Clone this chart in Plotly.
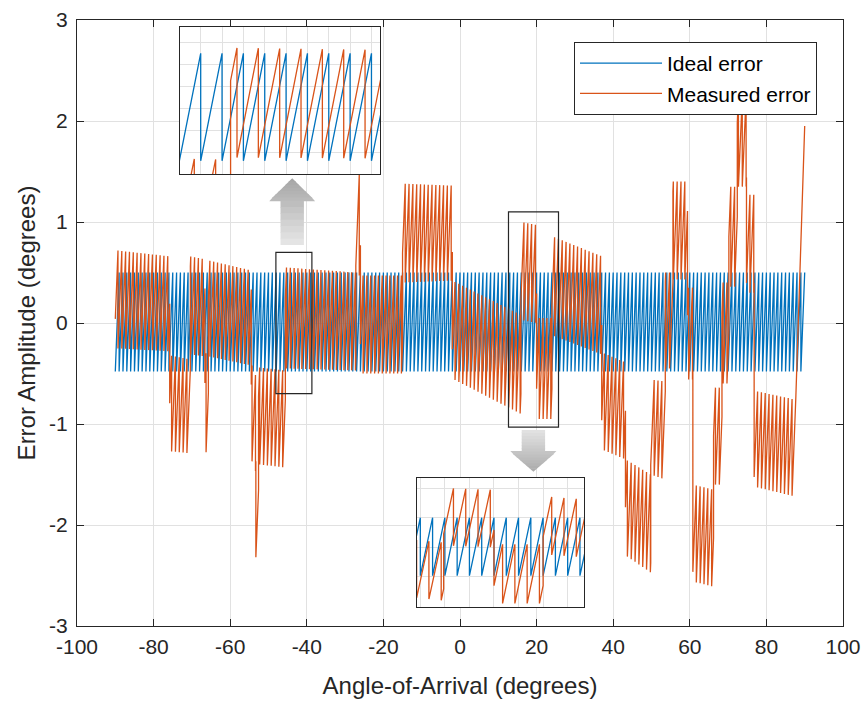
import numpy as np
import plotly.graph_objects as go

# ---------------- data ----------------
angle_min, angle_max = -90.0, 90.0
tooth_period_deg = 1.0
ideal_phase_deg = 0.0
ideal_low, ideal_high = -0.48, 0.50
measured_phase_deg = 0.7

# measured error: piecewise sawtooth segments (angle range, envelope low/high at start and end)
seg_start = [-90.0, -75.8, -70.4, -66.6, -65.7, -54.5, -53.4, -52.6, -45.6, -27.2,
             -26.0, -15.0, -2.0, 15.9, 20.0, 24.0, 37.0, 43.2, 49.8, 53.6,
             55.6, 59.4, 60.8, 66.2, 68.4, 70.2, 72.4, 74.8, 76.8]
seg_end = [-75.8, -70.4, -66.6, -65.7, -54.5, -53.4, -52.6, -45.6, -27.2, -26.0,
           -15.0, -2.0, 15.9, 20.0, 24.0, 37.0, 43.2, 49.8, 53.6, 55.6,
           59.4, 60.8, 66.2, 68.4, 70.2, 72.4, 74.8, 76.8, 87.7]
seg_low_start = [-0.25, -1.27, -0.31, -1.28, -0.33, -1.37, -2.32, -1.40, -0.45, 0.47,
                 -0.50, 0.40, -0.55, 0.03, -0.95, -0.12, -1.25, -2.30, -1.50, -0.45,
                 0.43, -0.56, -2.56, -1.60, -0.60, 0.36, 1.35, 0.30, -1.62]
seg_low_end = [-0.28, -1.29, -0.33, -1.28, -0.42, -1.37, -2.32, -1.43, -0.47, 0.47,
               -0.50, 0.42, -0.90, 0.00, -0.95, -0.31, -1.35, -2.47, -1.55, -0.45,
               0.43, -0.56, -2.61, -1.60, -0.60, 0.36, 1.35, 0.30, -1.72]
seg_high_start = [0.72, -0.32, 0.66, -0.30, 0.62, -0.42, -1.37, -0.44, 0.55, 1.47,
                  0.47, 1.38, 0.42, 1.00, 0.05, 0.86, -0.29, -1.35, -0.56, 0.50,
                  1.40, 0.35, -1.60, -0.64, 0.40, 1.35, 2.25, 1.27, -0.67]
seg_high_end = [0.66, -0.36, 0.63, -0.30, 0.52, -0.42, -1.37, -0.47, 0.50, 1.47,
                0.47, 1.36, 0.08, 0.97, 0.05, 0.66, -0.39, -1.50, -0.58, 0.50,
                1.40, 0.35, -1.65, -0.64, 0.40, 1.35, 2.25, 1.27, -0.76]
final_ramp_x = [87.7, 90.0]
final_ramp_y = [-0.72, 1.95]

# zoom boxes (main-axis coordinates) and inset view ranges
box1_x = [-48.07, -38.67]
box1_y = [-0.70, 0.70]
box2_x = [12.66, 25.72]
box2_y = [-1.03, 1.10]
inset1_xrange = [-47.97, -38.60]
inset1_yrange = [-0.60, 0.74]
inset2_xrange = [13.73, 27.33]
inset2_yrange = [-1.01, 1.17]

x_ticks = [-100, -80, -60, -40, -20, 0, 20, 40, 60, 80, 100]
x_tick_text = ["-100", "-80", "-60", "-40", "-20", "0", "20", "40", "60", "80", "100"]
y_ticks = [-3, -2, -1, 0, 1, 2, 3]
y_tick_text = ["-3", "-2", "-1", "0", "1", "2", "3"]


def sawtooth(x0, x1, phase, lo0, lo1, hi0, hi1, period):
    k0 = np.floor((x0 - phase) / period) + 1
    k1 = np.ceil((x1 - phase) / period) - 1
    drops = phase + period * np.arange(k0, k1 + 1)
    xs = [x0]
    fs = [((x0 - phase) / period) % 1.0]
    for d in drops:
        xs += [d, d]
        fs += [1.0, 0.0]
    f_end = ((x1 - phase) / period) % 1.0
    if f_end < 1e-9:
        f_end = 1.0
    xs.append(x1)
    fs.append(f_end)
    xs = np.array(xs)
    fs = np.array(fs)
    t = (xs - x0) / (x1 - x0)
    lo = lo0 + t * (lo1 - lo0)
    hi = hi0 + t * (hi1 - hi0)
    return xs, lo + fs * (hi - lo)


ideal_x, ideal_y = sawtooth(angle_min, angle_max, ideal_phase_deg,
                            ideal_low, ideal_low, ideal_high, ideal_high, tooth_period_deg)

mx, my = [], []
for s, e, l0, l1, h0, h1 in zip(seg_start, seg_end, seg_low_start, seg_low_end,
                                 seg_high_start, seg_high_end):
    xs, ys = sawtooth(s, e, measured_phase_deg, l0, l1, h0, h1, tooth_period_deg)
    mx.extend(xs.tolist())
    my.extend(ys.tolist())
mx.extend(final_ramp_x)
my.extend(final_ramp_y)

BLUE = "#0072BD"
ORANGE = "#D95319"
DARK = "#262626"
GRID = "#e1e1e1"
FONT = "Liberation Sans, Arial, sans-serif"

fig = go.Figure()
for xa, ya, show in [("x", "y", True), ("x2", "y2", False), ("x3", "y3", False)]:
    fig.add_trace(go.Scatter(x=ideal_x, y=ideal_y, mode="lines", name="Ideal error",
                             line=dict(color=BLUE, width=1.3), xaxis=xa, yaxis=ya,
                             showlegend=show, hoverinfo="skip"))
    fig.add_trace(go.Scatter(x=mx, y=my, mode="lines", name="Measured error",
                             line=dict(color=ORANGE, width=1.3), xaxis=xa, yaxis=ya,
                             showlegend=show, hoverinfo="skip"))

# plot area in pixels
L, R, T, B = 77, 843, 20, 626
W, H = R - L, B - T


def px(xp):
    return (xp - L) / W


def py(yp):
    return (B - yp) / H


axis_common = dict(showline=True, linecolor=DARK, linewidth=1.2, mirror="ticks",
                   ticks="inside", ticklen=7, tickcolor=DARK, showgrid=True,
                   gridcolor=GRID, gridwidth=1, zeroline=False, automargin=False,
                   tickfont=dict(family=FONT, size=21, color=DARK))
inset_common = dict(showline=True, linecolor=DARK, linewidth=1.2, mirror=True,
                    ticks="", showticklabels=False, showgrid=True, gridcolor=GRID,
                    gridwidth=1, zeroline=False, automargin=False)

fig.update_layout(
    width=867, height=706,
    margin=dict(l=L, r=867 - R, t=T, b=706 - B, autoexpand=False),
    paper_bgcolor="white", plot_bgcolor="white",
    font=dict(family=FONT, color=DARK),
    xaxis=dict(range=[-100, 100], tickvals=x_ticks, ticktext=x_tick_text, domain=[0, 1],
               ticklabelstandoff=2,
               title=dict(text="Angle-of-Arrival (degrees)", font=dict(size=24, color=DARK),
                          standoff=19),
               **axis_common),
    yaxis=dict(range=[-3, 3], tickvals=y_ticks, ticktext=y_tick_text, domain=[0, 1],
               ticklabelstandoff=4,
               title=dict(text="Error Amplitude (degrees)", font=dict(size=24, color=DARK),
                          standoff=6),
               **axis_common),
    xaxis2=dict(domain=[px(180), px(380)], anchor="y2", range=inset1_xrange, dtick=1,
                **inset_common),
    yaxis2=dict(domain=[py(174), py(27)], anchor="x2", range=inset1_yrange, dtick=0.2,
                **inset_common),
    xaxis3=dict(domain=[px(417), px(584)], anchor="y3", range=inset2_xrange, dtick=2,
                **inset_common),
    yaxis3=dict(domain=[py(607), py(478)], anchor="x3", range=inset2_yrange, dtick=0.5,
                **inset_common),
    legend=dict(x=px(574), y=py(42), xanchor="left", yanchor="top",
                bgcolor="white", bordercolor=DARK, borderwidth=1,
                font=dict(family=FONT, size=21, color="black"), itemwidth=82,
                tracegroupgap=0),
    showlegend=True,
)

shapes = []
for bx, by in [(box1_x, box1_y), (box2_x, box2_y)]:
    shapes.append(dict(type="rect", xref="x", yref="y", x0=bx[0], x1=bx[1],
                       y0=by[0], y1=by[1], line=dict(color=DARK, width=1.2),
                       fillcolor="rgba(0,0,0,0)", layer="above"))


def arrow_shapes(cx, tip_y, base_y, tail_y, head_half, shaft_half, dark, light, n=14):
    out = []
    sgn = 1 if tail_y > tip_y else -1
    ys_head = np.linspace(tip_y, base_y, n // 2 + 1)
    ys_shaft = np.linspace(base_y, tail_y, n // 2 + 1)
    total = abs(tail_y - tip_y)

    def col(y):
        f = abs(y - tip_y) / total
        c = [int(dark[i] + (light[i] - dark[i]) * f) for i in range(3)]
        return "rgb(%d,%d,%d)" % tuple(c)

    for i in range(len(ys_head) - 1):
        a, b = ys_head[i], ys_head[i + 1] + sgn * 0.6
        wa = head_half * abs(a - tip_y) / abs(base_y - tip_y)
        wb = head_half * min(1.0, abs(b - tip_y) / abs(base_y - tip_y))
        path = "M %f,%f L %f,%f L %f,%f L %f,%f Z" % (
            px(cx - wa), py(a), px(cx + wa), py(a), px(cx + wb), py(b), px(cx - wb), py(b))
        out.append(dict(type="path", xref="paper", yref="paper", path=path,
                        fillcolor=col((a + b) / 2), line=dict(width=0), layer="above"))
    for i in range(len(ys_shaft) - 1):
        a = ys_shaft[i]
        b = ys_shaft[i + 1] + (sgn * 0.6 if i < len(ys_shaft) - 2 else 0)
        path = "M %f,%f L %f,%f L %f,%f L %f,%f Z" % (
            px(cx - shaft_half), py(a), px(cx + shaft_half), py(a),
            px(cx + shaft_half), py(b), px(cx - shaft_half), py(b))
        out.append(dict(type="path", xref="paper", yref="paper", path=path,
                        fillcolor=col((a + b) / 2), line=dict(width=0), layer="above"))
    return out


shapes += arrow_shapes(292.2, 178.3, 200.7, 245.0, 22.9, 11.7, (165, 165, 165), (232, 232, 232))
shapes += arrow_shapes(533.4, 471.7, 451.7, 430.0, 23.0, 11.7, (170, 170, 170), (228, 228, 228))
fig.update_layout(shapes=shapes)

fig.write_html("out.html", config={"displayModeBar": False},
               post_script="document.body.style.margin='0px';")
